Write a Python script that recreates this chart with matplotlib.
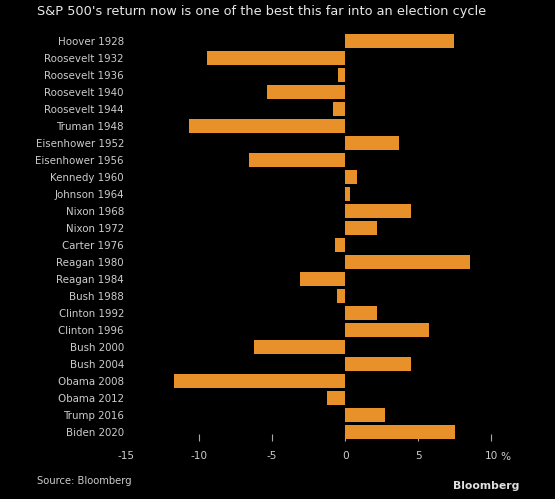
import numpy as np
import matplotlib
matplotlib.use('Agg')
import matplotlib.pyplot as plt

labels = ['Hoover 1928', 'Roosevelt 1932', 'Roosevelt 1936', 'Roosevelt 1940',
          'Roosevelt 1944', 'Truman 1948', 'Eisenhower 1952', 'Eisenhower 1956',
          'Kennedy 1960', 'Johnson 1964', 'Nixon 1968', 'Nixon 1972',
          'Carter 1976', 'Reagan 1980', 'Reagan 1984', 'Bush 1988',
          'Clinton 1992', 'Clinton 1996', 'Bush 2000', 'Bush 2004',
          'Obama 2008', 'Obama 2012', 'Trump 2016', 'Biden 2020']
returns = [7.47, -9.47, -0.48, -5.34, -0.84, -10.68, 3.70, -6.60,
           0.80, 0.32, 4.50, 2.21, -0.68, 8.56, -3.10, -0.53,
           2.21, 5.73, -6.23, 4.50, -11.69, -1.26, 2.76, 7.51]
xticks = [-15, -10, -5, 0, 5, 10]

bg = '#000000'
bar_color = '#E8912B'
txt = '#cccccc'

fig = plt.figure(figsize=(5.55, 4.99), dpi=100, facecolor=bg)
ax = fig.add_axes([126 / 555, 1 - 441 / 499, (500 - 126) / 555, (441 - 32) / 499])
ax.set_facecolor(bg)

y = np.arange(len(labels))
ax.barh(y, returns, height=0.85, color=bar_color, zorder=2)
ax.set_ylim(len(labels) - 0.47, -0.53)
ax.set_xlim(-15, 10.6)

ax.set_yticks(y)
ax.set_yticklabels(labels, fontsize=7.4, color=txt)
ax.set_xticks(xticks)
ax.set_xticklabels([str(t) for t in xticks], fontsize=7.6, color=txt)
ax.tick_params(axis='y', length=0, pad=1.5)
ax.tick_params(axis='x', direction='in', length=5, width=0.8, color='#aaaaaa', pad=7)
ax.xaxis.get_major_ticks()[0].tick1line.set_visible(False)
for s in ax.spines.values():
    s.set_visible(False)
ax.text(10.65, -0.028, '%', transform=ax.get_xaxis_transform(), fontsize=7.6, color=txt,
        ha='left', va='top')

fig.text(37 / 555, 1 - 11 / 499, "S&P 500's return now is one of the best this far into an election cycle",
         fontsize=9.3, color='#e8e8e8', ha='left', va='center')
fig.text(37 / 555, 1 - 481 / 499, 'Source: Bloomberg', fontsize=7.2, color=txt,
         ha='left', va='center')
fig.text(519 / 555, 1 - 486 / 499, 'Bloomberg', fontsize=7.8, color='#e0e0e0',
         fontweight='bold', ha='right', va='center')

fig.savefig('out.png', dpi=100, facecolor=bg)
